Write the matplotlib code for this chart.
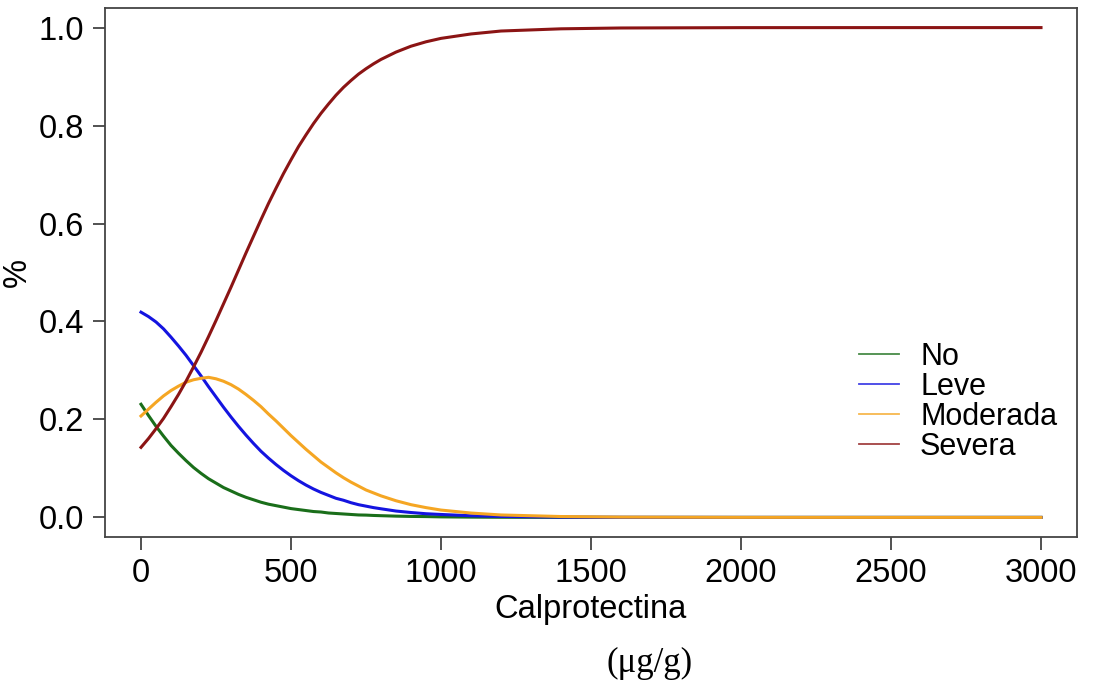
import matplotlib
matplotlib.use("Agg")
import matplotlib.pyplot as plt

# probability curves (x = calprotectina, ug/g)
calpro = [0, 25, 50, 75, 100, 125, 150, 175, 200, 225, 250, 275, 300, 325,
          350, 375, 400, 425, 450, 475, 500, 525, 550, 575, 600, 625, 650,
          675, 700, 725, 750, 775, 800, 850, 900, 950, 1000, 1100, 1200,
          1400, 1600, 2000, 2500, 3000]
p_no = [0.231, 0.208, 0.186, 0.166, 0.147, 0.131, 0.116, 0.102, 0.090, 0.079,
        0.070, 0.061, 0.054, 0.047, 0.041, 0.036, 0.031, 0.027, 0.024, 0.021,
        0.018, 0.016, 0.014, 0.012, 0.011, 0.009, 0.008, 0.007, 0.006, 0.005,
        0.0047, 0.004, 0.0035, 0.0026, 0.002, 0.0017, 0.0011, 0.0006, 0.0003,
        0.0001, 0.0, 0.0, 0.0, 0.0]
p_leve = [0.419, 0.410, 0.399, 0.385, 0.368, 0.350, 0.331, 0.310, 0.289,
          0.267, 0.246, 0.225, 0.205, 0.186, 0.168, 0.151, 0.135, 0.121,
          0.108, 0.096, 0.085, 0.075, 0.066, 0.058, 0.051, 0.045, 0.039,
          0.035, 0.030, 0.026, 0.023, 0.020, 0.0176, 0.013, 0.010, 0.0075,
          0.006, 0.0034, 0.002, 0.0006, 0.0002, 0.0, 0.0, 0.0]
p_moderada = [0.207, 0.221, 0.235, 0.248, 0.259, 0.268, 0.276, 0.281, 0.284,
              0.286, 0.283, 0.278, 0.271, 0.262, 0.251, 0.239, 0.226, 0.211,
              0.197, 0.182, 0.167, 0.153, 0.139, 0.126, 0.113, 0.102, 0.091,
              0.081, 0.072, 0.064, 0.056, 0.050, 0.044, 0.034, 0.026, 0.020,
              0.015, 0.0089, 0.005, 0.0018, 0.0006, 0.0001, 0.0, 0.0]
p_severa = [0.143, 0.161, 0.181, 0.202, 0.226, 0.251, 0.278, 0.307, 0.337,
            0.369, 0.402, 0.436, 0.470, 0.505, 0.540, 0.574, 0.608, 0.641,
            0.672, 0.702, 0.730, 0.757, 0.781, 0.804, 0.825, 0.844, 0.862,
            0.878, 0.892, 0.905, 0.916, 0.926, 0.935, 0.950, 0.962, 0.971,
            0.978, 0.987, 0.993, 0.9975, 0.9992, 0.9999, 1.0, 1.0]

labels = ["No", "Leve", "Moderada", "Severa"]
colors = ["#1a6e1a", "#1414e0", "#f5a623", "#8b1414"]

plt.rcParams['font.family'] = ['Liberation Sans', 'DejaVu Sans']

fig = plt.figure(figsize=(10.93, 6.87), dpi=100)
ax = fig.add_axes([105 / 1093, 1 - 537 / 687, 972 / 1093, 529 / 687])

for ys, lab, col in zip([p_no, p_leve, p_moderada, p_severa], labels, colors):
    ax.plot(calpro, ys, color=col, lw=2.2, label=lab)

ax.set_xlim(-120, 3120)
ax.set_ylim(-0.04, 1.04)
ax.set_xticks([0, 500, 1000, 1500, 2000, 2500, 3000])
ax.set_yticks([0.0, 0.2, 0.4, 0.6, 0.8, 1.0])
ax.set_yticklabels(["0.0", "0.2", "0.4", "0.6", "0.8", "1.0"])
ax.tick_params(labelsize=23.5, length=9, width=1.2, color="#333333", pad=6)
for s in ax.spines.values():
    s.set_color("#444444")
    s.set_linewidth(1.3)

ax.set_xlabel("Calprotectina", fontsize=23.5, labelpad=4)
ax.set_ylabel("%", fontsize=23.5, labelpad=4)

leg = ax.legend(loc="center left", bbox_to_anchor=(0.76, 0.255), frameon=False,
                fontsize=22, handlelength=1.3, handletextpad=0.7,
                labelspacing=0.0, borderpad=0)
for h in leg.get_lines():
    h.set_linewidth(1.3)
    h.set_alpha(0.8)

fig.text(650 / 1093, 1 - 663 / 687, "(μg/g)", fontsize=25,
         family=["Liberation Serif", "DejaVu Serif"], ha="center", va="center")

fig.savefig("out.png", dpi=100, facecolor="white")
